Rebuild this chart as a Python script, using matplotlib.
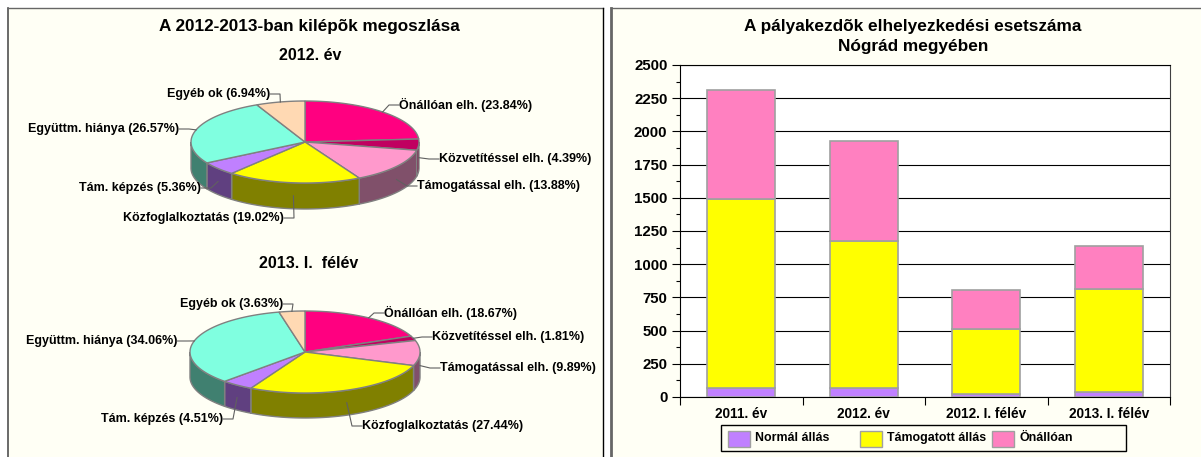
import numpy as np
import matplotlib
matplotlib.use("Agg")
import matplotlib.pyplot as plt
from matplotlib.patches import Polygon, Rectangle

plt.rcParams["font.family"] = ["Liberation Sans", "DejaVu Sans"]
plt.rcParams["font.weight"] = "bold"

# =========================
# Data
# =========================

pie_names = ["Önállóan elh.", "Közvetítéssel elh.", "Támogatással elh.", "Közfoglalkoztatás",
             "Tám. képzés", "Együttm. hiánya", "Egyéb ok"]
shares_2012 = [23.84, 4.39, 13.88, 19.02, 5.36, 26.57, 6.94]
shares_2013 = [18.67, 1.81, 9.89, 27.44, 4.51, 34.06, 3.63]

bar_cats = ["2011. év", "2012. év", "2012. I. félév", "2013. I. félév"]
normal = [65, 65, 25, 35]
tamogatott = [1425, 1110, 485, 780]
onalloan = [825, 750, 295, 320]
bar_series = ["Normál állás", "Támogatott állás", "Önállóan"]

# =========================
# Styles and layout (pixels)
# =========================

W, H = 1201, 457
CREAM = "#FFFFF5"
EDGE = "#808080"
BAR_EDGE = "#A0A0A0"
top_colors = ["#FF0080", "#C00060", "#FF99CC", "#FFFF00", "#C080FF", "#80FFE0", "#FFD9B3"]
side_colors = ["#800040", "#800040", "#80506A", "#808000", "#604080", "#408070", "#807060"]
bar_colors = ["#C080FF", "#FFFF00", "#FF80C0"]

# label anchor: (x, y, horizontal alignment)
labels_2012 = [(399, 105, "left"), (439, 159, "left"), (417, 186, "left"), (284, 218, "right"),
               (201, 188, "right"), (179, 129, "right"), (270, 94, "right")]
labels_2013 = [(384, 313, "left"), (432, 337, "left"), (440, 368, "left"), (362, 426, "left"),
               (223, 419, "right"), (177, 341, "right"), (283, 304, "right")]

fig = plt.figure(figsize=(W / 100, H / 100), dpi=100, facecolor="white")

back = fig.add_axes([0, 0, 1, 1])
back.set_xlim(0, W)
back.set_ylim(H, 0)
back.axis("off")

# two panels, the right one runs off the picture
back.add_patch(Rectangle((8, 8), 595, H, fc=CREAM, ec="none"))
back.add_patch(Rectangle((611, 8), W - 611, H, fc=CREAM, ec="none"))
back.plot([8, 8], [8, H], color="#505050", lw=1.2)
back.plot([8, 603], [8, 8], color="#666666", lw=1)
back.plot([603, 603], [8, H], color="black", lw=1)
back.plot([611, 611], [8, H], color="#666666", lw=2)
back.plot([611, W], [8, 8], color="#666666", lw=1)


def ell(cx, cy, a, b, t):
    return cx + a * np.sin(t), cy - b * np.cos(t)


def draw_pie(shares, cx, cy, a, b, depth, labels):
    edges = np.radians(np.cumsum([0] + list(shares)) * 360 / sum(shares))

    # sides: only the front half of the rim shows
    for i in range(len(shares)):
        t0 = max(edges[i], np.pi / 2)
        t1 = min(edges[i + 1], 3 * np.pi / 2)
        if t1 <= t0:
            continue
        t = np.linspace(t0, t1, 60)
        x, y = ell(cx, cy, a, b, t)
        pts = np.r_[np.c_[x, y], np.c_[x[::-1], y[::-1] + depth]]
        back.add_patch(Polygon(pts, fc=side_colors[i], ec=EDGE, lw=1))

    # top
    for i in range(len(shares)):
        t = np.linspace(edges[i], edges[i + 1], 80)
        x, y = ell(cx, cy, a, b, t)
        pts = np.r_[[[cx, cy]], np.c_[x, y]]
        back.add_patch(Polygon(pts, fc=top_colors[i], ec=EDGE, lw=1))

    # labels and leader lines
    for i in range(len(shares)):
        mid = (edges[i] + edges[i + 1]) / 2
        ax_, ay_ = ell(cx, cy, a, b, mid)
        if np.pi / 2 <= mid <= 3 * np.pi / 2:
            ay_ += depth / 2
        tx, ty, ha = labels[i]
        back.text(tx, ty, f"{pie_names[i]} ({shares[i]:.2f}%)", ha=ha, va="center",
                  fontsize=9, color="black")
        elbow = tx - 10 if ha == "left" else tx + 10
        back.plot([tx, elbow, ax_], [ty, ty, ay_], color="#606060", lw=0.8, zorder=3)


back.text(309, 27, "A 2012-2013-ban kilépõk megoszlása", ha="center", va="center", fontsize=12.3)
back.text(310, 55, "2012. év", ha="center", va="center", fontsize=11.5)
back.text(309, 264, "2013. I.  félév", ha="center", va="center", fontsize=11.5)

draw_pie(shares_2012, 305, 142, 114, 41, 26, labels_2012)
draw_pie(shares_2013, 305, 352, 115, 41, 25, labels_2013)

# =========================
# Stacked bars
# =========================

back.text(913, 27, "A pályakezdõk elhelyezkedési esetszáma", ha="center", va="center", fontsize=12.4)
back.text(913, 47, "Nógrád megyében", ha="center", va="center", fontsize=12.4)

ax = fig.add_axes([680 / W, 1 - 397 / H, 490 / W, 332 / H], facecolor="white")
pos = np.arange(len(bar_cats)) + 0.5
bottom = np.zeros(len(bar_cats))
for vals, color in zip([normal, tamogatott, onalloan], bar_colors):
    ax.bar(pos, vals, 0.555, bottom=bottom, color=color, edgecolor=BAR_EDGE, lw=1.2, zorder=3)
    bottom = bottom + np.array(vals)

ax.set_xlim(0, len(bar_cats))
ax.set_ylim(0, 2500)
ax.set_yticks(np.arange(0, 2501, 250))
ax.set_yticks(np.arange(125, 2500, 250), minor=True)
ax.set_xticks(np.arange(len(bar_cats) + 1))
ax.set_xticklabels([])
ax.set_xticks(pos, bar_cats, minor=True)
ax.grid(axis="y", which="major", color="black", lw=0.8, zorder=1)
ax.tick_params(axis="y", which="major", length=6, width=0.8, labelsize=10.8, pad=3)
ax.tick_params(axis="y", which="minor", length=3, width=0.8)
ax.tick_params(axis="x", which="major", length=6, width=0.8)
ax.tick_params(axis="x", which="minor", length=0, labelsize=9.8, pad=7)
for s in ax.spines.values():
    s.set_linewidth(0.8)
ax.spines["right"].set_color("#404040")
ax.set_axisbelow(True)

# legend box
front = fig.add_axes([0, 0, 1, 1], facecolor="none")
front.set_xlim(0, W)
front.set_ylim(H, 0)
front.axis("off")
front.add_patch(Rectangle((721, 425), 405, 26, fc=CREAM, ec="black", lw=1))
for name, color, sx in zip(bar_series, bar_colors, [728, 860, 992]):
    front.add_patch(Rectangle((sx, 431), 22, 16, fc=color, ec=BAR_EDGE, lw=1))
    front.text(sx + 27, 438, name, ha="left", va="center", fontsize=8.9)

fig.savefig("out.png", dpi=100, facecolor="white")
